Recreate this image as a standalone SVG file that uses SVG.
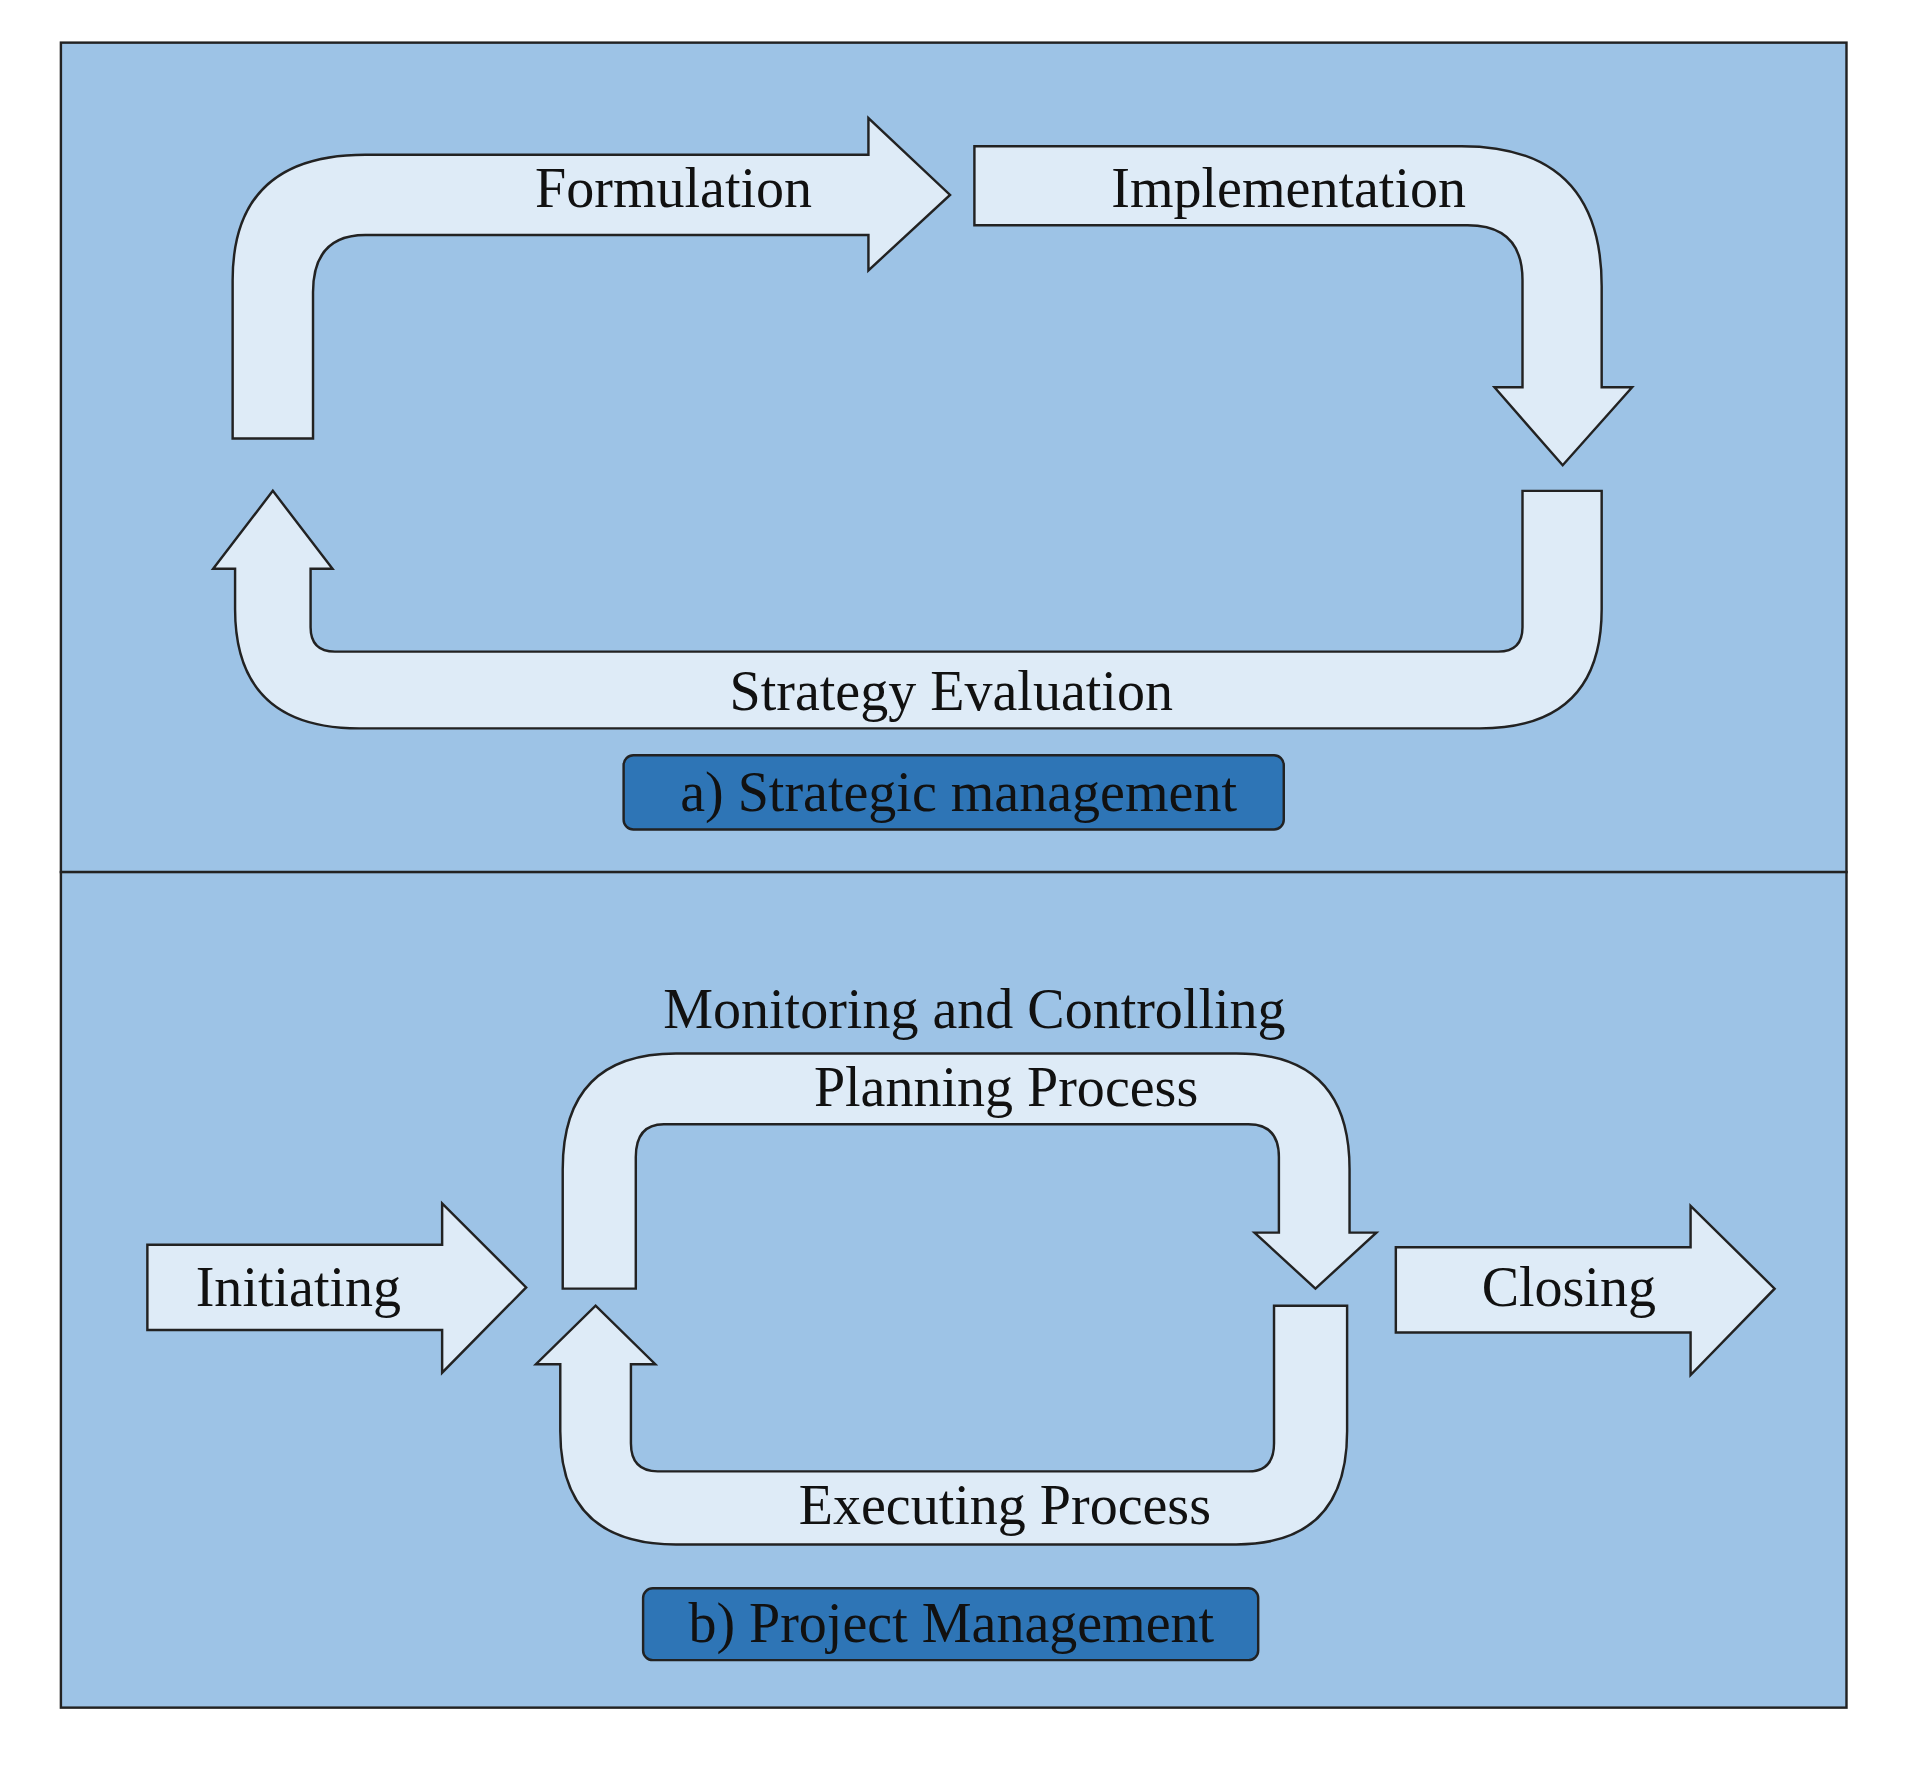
<svg xmlns="http://www.w3.org/2000/svg" width="1910" height="1776" viewBox="0 0 1910 1776">
<style>
.bg{fill:#9dc3e6;stroke:#222;stroke-width:2}
.ar{fill:#deebf7;stroke:#222;stroke-width:2;stroke-linejoin:miter}
.lb{fill:#2e75b6;stroke:#222;stroke-width:2}
text{font-family:"Liberation Serif","DejaVu Serif",serif;font-size:46px;fill:#111;text-anchor:middle}
</style>
<rect width="1910" height="1776" fill="#fff"/>
<g transform="scale(1.218)">
<g id="panels">
<rect class="bg" x="50" y="35" width="1466" height="681"/>
<rect class="bg" x="50" y="716" width="1466" height="686"/>
</g>
<g id="connectors">
<g id="formulation"><path class="ar" d="M191,360 L191,230 Q191,127 300,127 L713,127 L713,97 L780,160 L713,222 L713,193 L300,193 Q257,193 257,240 L257,360 Z"/><text x="553" y="170">Formulation</text></g>
<g id="implementation"><path class="ar" d="M800,120 L1200,120 Q1315,120 1315,235 L1315,318 L1340,318 L1283,382 L1227,318 L1250,318 L1250,230 Q1250,185 1205,185 L800,185 Z"/><text x="1058" y="170">Implementation</text></g>
<g id="evaluation"><path class="ar" d="M1315,403 L1315,500 Q1315,598 1215,598 L295,598 Q193,598 193,500 L193,467 L175,467 L224,403 L273,467 L255,467 L255,515 Q255,535 275,535 L1230,535 Q1250,535 1250,515 L1250,403 Z"/><text x="781" y="583">Strategy Evaluation</text></g>
<g id="initiating"><path class="ar" d="M121,1022 L363,1022 L363,988 L432,1057 L363,1127 L363,1092 L121,1092 Z"/><text x="245" y="1072">Initiating</text></g>
<g id="closing"><path class="ar" d="M1146,1024 L1388,1024 L1388,990 L1457,1058 L1388,1129 L1388,1094 L1146,1094 Z"/><text x="1288" y="1072">Closing</text></g>
<g id="planning"><path class="ar" d="M462,1058 L462,960 Q462,865 555,865 L1015,865 Q1108,865 1108,960 L1108,1012 L1130,1012 L1080,1058 L1030,1012 L1050,1012 L1050,950 Q1050,923 1025,923 L545,923 Q522,923 522,950 L522,1058 Z"/><text x="826" y="908">Planning Process</text></g>
<g id="executing"><path class="ar" d="M1106,1072 L1106,1175 Q1106,1268 1015,1268 L555,1268 Q460,1268 460,1175 L460,1120 L440,1120 L489,1072 L538,1120 L518,1120 L518,1185 Q518,1208 540,1208 L1025,1208 Q1046,1208 1046,1185 L1046,1072 Z"/><text x="825" y="1251">Executing Process</text></g>
</g>
<g id="monitoring"><text x="800" y="844">Monitoring and Controlling</text></g>
<g id="label-a"><rect class="lb" x="512" y="620" width="542" height="61" rx="8"/><text x="787" y="666">a) Strategic management</text></g>
<g id="label-b"><rect class="lb" x="528" y="1304" width="505" height="59" rx="8"/><text x="781" y="1348">b) Project Management</text></g>
</g>
</svg>
